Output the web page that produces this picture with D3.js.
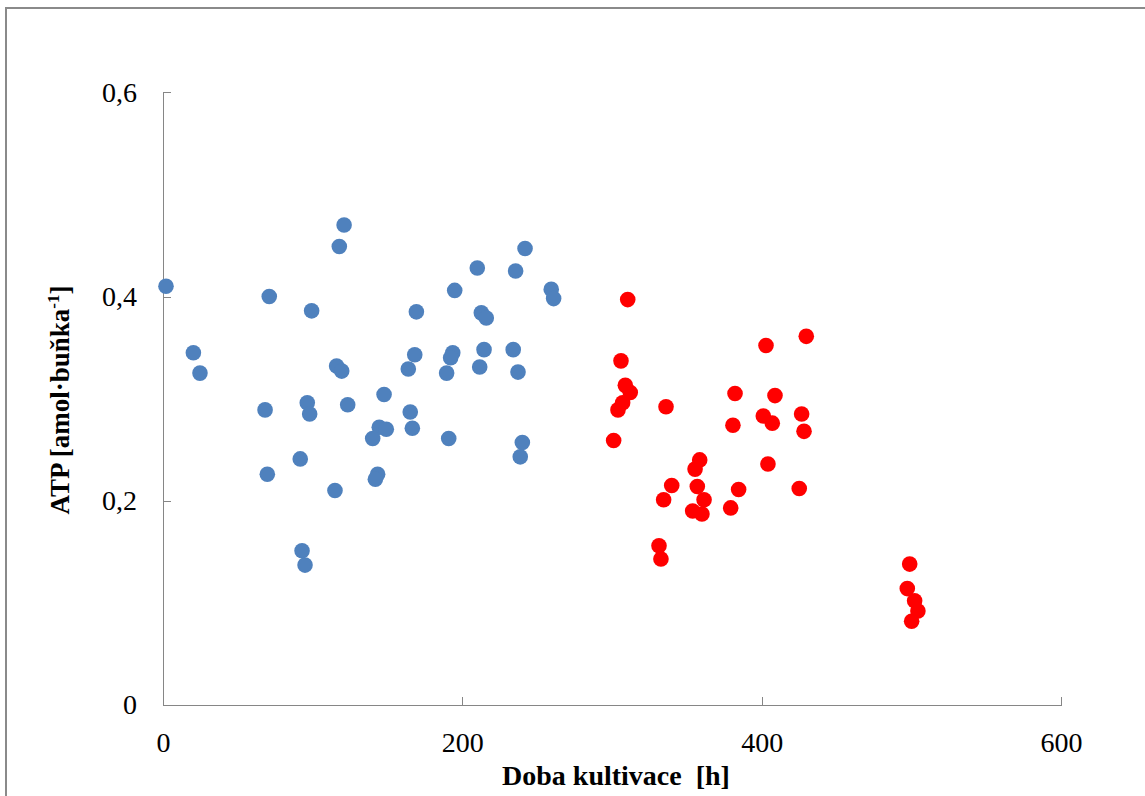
<!DOCTYPE html>
<html>
<head>
<meta charset="utf-8">
<script src="https://cdn.jsdelivr.net/npm/d3@7"></script>
<style>
  body { margin: 0; background: #fff; }
  svg { display: block; }
  .axis path, .axis line { stroke: #868686; shape-rendering: crispEdges; }
  .axis text { font-family: "Liberation Serif", "Times New Roman", serif; font-size: 28px; fill: #000; }
  .label { font-family: "Liberation Serif", "Times New Roman", serif; font-weight: bold; fill: #000; white-space: pre; }
</style>
</head>
<body>
<div class="scatterplot"></div>
<script>

// blue series (first period)
var blueX = [2.0, 121, 117.8, 71, 99.3, 169.3, 194.9, 20.3, 24.7, 116, 119.4, 168.2, 193.6, 192.2,
             163.9, 189.5, 68.2, 96.4, 98, 123.4, 147.7, 165.2, 144.5, 149.2, 140.1, 166.6, 190.9,
             91.7, 69.7, 143.4, 141.9, 114.9, 92.9, 94.9,
             241.9, 210, 235.6, 259.4, 261, 212.7, 216, 214.5, 234, 211.6, 237.2, 240.1, 238.7];
var blueY = [0.410, 0.470, 0.449, 0.400, 0.386, 0.385, 0.406, 0.345, 0.325, 0.332, 0.327, 0.343, 0.345, 0.340,
             0.329, 0.325, 0.289, 0.296, 0.285, 0.294, 0.304, 0.287, 0.272, 0.270, 0.261, 0.271, 0.261,
             0.241, 0.226, 0.226, 0.221, 0.210, 0.151, 0.137,
             0.447, 0.428, 0.425, 0.407, 0.398, 0.384, 0.379, 0.348, 0.348, 0.331, 0.326, 0.257, 0.243];

// red series (second period)
var redX = [310.5, 306, 308.9, 312.2, 307.1, 304, 336.1, 301.1, 402.9, 429.8, 382.2, 408.9, 401.1, 407.1,
            426.7, 428.3, 380.8, 404.2, 358.6, 355.5, 339.9, 357, 384.6, 425.1, 334.5, 361.5, 379.3,
            353.9, 360.1, 331.4, 332.7, 498.9, 497.3, 502.2, 504.4, 500.2];
var redY = [0.397, 0.337, 0.313, 0.306, 0.296, 0.289, 0.292, 0.259, 0.352, 0.361, 0.305, 0.303, 0.283, 0.276,
            0.285, 0.268, 0.274, 0.236, 0.240, 0.231, 0.215, 0.214, 0.211, 0.212, 0.201, 0.201, 0.193,
            0.190, 0.187, 0.156, 0.143, 0.138, 0.114, 0.102, 0.092, 0.082];

var xTicks = [0, 200, 400, 600];
var yTicks = [0, 0.2, 0.4, 0.6];
var yTickLabels = ["0", "0,2", "0,4", "0,6"];

var width = 1145, height = 796;

var svg = d3.select('div.scatterplot').append('svg')
    .attr('width', width)
    .attr('height', height);

// chart area frame
svg.append('rect')
    .attr('x', 6).attr('y', 8)
    .attr('width', 1300).attr('height', 1000)
    .attr('fill', 'none')
    .attr('stroke', '#8a8a8a')
    .attr('stroke-width', 2);

var x = d3.scaleLinear().domain([0, 600]).range([163, 1061]);
var y = d3.scaleLinear().domain([0, 0.6]).range([705, 92.3]);

svg.append('g')
    .attr('class', 'axis')
    .attr('transform', 'translate(0,' + y(0) + ')')
    .call(d3.axisBottom(x).tickValues(xTicks).tickSizeInner(-8).tickSizeOuter(0).tickPadding(27));

svg.append('g')
    .attr('class', 'axis')
    .attr('transform', 'translate(' + x(0) + ',0)')
    .call(d3.axisLeft(y).tickValues(yTicks).tickSizeInner(-8).tickSizeOuter(0).tickPadding(26)
      .tickFormat(function(d, i) { return yTickLabels[i]; }));

function dots(xs, ys, color) {
  svg.append('g')
    .selectAll('circle')
    .data(xs.map(function(v, i) { return [v, ys[i]]; }))
    .enter().append('circle')
      .attr('cx', function(d) { return x(d[0]); })
      .attr('cy', function(d) { return y(d[1]); })
      .attr('r', 7.8)
      .attr('fill', color);
}
dots(blueX, blueY, '#4F81BD');
dots(redX, redY, '#FF0000');

svg.append('text')
    .attr('class', 'label')
    .attr('x', 616)
    .attr('y', 785)
    .attr('font-size', 28)
    .attr('text-anchor', 'middle')
    .text('Doba kultivace  [h]');

var yl = svg.append('text')
    .attr('class', 'label')
    .attr('transform', 'translate(69,400) rotate(-90)')
    .attr('font-size', 27)
    .attr('text-anchor', 'middle');
yl.append('tspan').text('ATP [amol·buňka');
yl.append('tspan').attr('font-size', 17).attr('dy', -10).text('-1');
yl.append('tspan').attr('dy', 10).text(']');

</script>
</body>
</html>
